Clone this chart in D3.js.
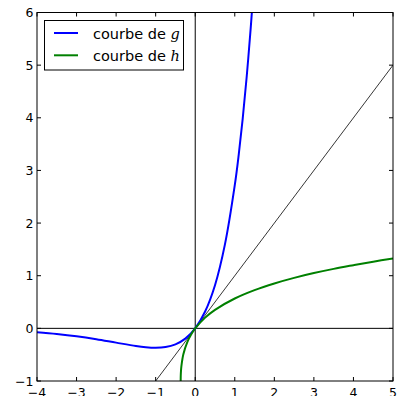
<!DOCTYPE html>
<html>
<head>
<meta charset="utf-8">
<script src="https://cdn.jsdelivr.net/npm/d3@7"></script>
<style>
  body { margin: 0; background: #fff; }
  text { font-family: "DejaVu Sans", sans-serif; }
</style>
</head>
<body>
<svg width="403" height="396"></svg>
<script>
// values
const gX = [-4, -3.5, -3, -2.5, -2, -1.5, -1.25, -1, -0.75, -0.5, -0.25, 0, 0.25, 0.5, 0.75, 1, 1.1, 1.2, 1.3, 1.4, 1.45];
const gY = [-0.073, -0.106, -0.149, -0.205, -0.271, -0.335, -0.358, -0.368, -0.354, -0.303, -0.195, 0, 0.32, 0.82, 1.59, 2.72, 3.3, 3.98, 4.77, 5.68, 6.19];
const hX = [-0.3679, -0.366, -0.36, -0.35, -0.3, -0.2, -0.1, 0, 0.25, 0.5, 1, 1.5, 2, 2.5, 3, 3.5, 4, 4.5, 5];
const hY = [-1, -0.9, -0.81, -0.72, -0.49, -0.26, -0.112, 0, 0.204, 0.352, 0.567, 0.726, 0.853, 0.959, 1.05, 1.13, 1.2, 1.267, 1.327];
const diagX = [-1, 5];
const xTicks = [-4, -3, -2, -1, 0, 1, 2, 3, 4, 5];
const yTicks = [-1, 0, 1, 2, 3, 4, 5, 6];
const legendLabels = ["g", "h"];

const svg = d3.select("svg");
const mLeft = 37, mRight = 393, mTop = 12.5, mBottom = 381;

const xs = d3.scaleLinear().domain([-4, 5]).range([mLeft, mRight]);
const ys = d3.scaleLinear().domain([-1, 6]).range([mBottom, mTop]);

svg.append("defs").append("clipPath").attr("id", "clip")
  .append("rect").attr("x", mLeft).attr("y", mTop)
  .attr("width", mRight - mLeft).attr("height", mBottom - mTop);

const plot = svg.append("g").attr("clip-path", "url(#clip)");

// axes through origin
plot.append("line").attr("x1", mLeft).attr("x2", mRight)
  .attr("y1", ys(0)).attr("y2", ys(0)).attr("stroke", "black").attr("stroke-width", 1);
plot.append("line").attr("x1", xs(0)).attr("x2", xs(0))
  .attr("y1", mTop).attr("y2", mBottom).attr("stroke", "black").attr("stroke-width", 1);

// y = x
plot.append("line").attr("x1", xs(diagX[0])).attr("y1", ys(diagX[0]))
  .attr("x2", xs(diagX[1])).attr("y2", ys(diagX[1]))
  .attr("stroke", "black").attr("stroke-width", 0.8);

const line = d3.line()
  .x(d => xs(d[0]))
  .y(d => ys(d[1]))
  .curve(d3.curveCatmullRom.alpha(0.5));

plot.append("path")
  .datum(gX.map((x, i) => [x, gY[i]]))
  .attr("fill", "none").attr("stroke", "#0000ff").attr("stroke-width", 2)
  .attr("d", line);

plot.append("path")
  .datum(hX.map((x, i) => [x, hY[i]]))
  .attr("fill", "none").attr("stroke", "#008000").attr("stroke-width", 2)
  .attr("d", line);

// frame
svg.append("rect").attr("x", mLeft).attr("y", mTop)
  .attr("width", mRight - mLeft).attr("height", mBottom - mTop)
  .attr("fill", "none").attr("stroke", "black").attr("stroke-width", 1);

// ticks (inside, on all four sides)
const tl = 4;
xTicks.forEach(t => {
  svg.append("line").attr("x1", xs(t)).attr("x2", xs(t)).attr("y1", mBottom).attr("y2", mBottom - tl).attr("stroke", "black");
  svg.append("line").attr("x1", xs(t)).attr("x2", xs(t)).attr("y1", mTop).attr("y2", mTop + tl).attr("stroke", "black");
  svg.append("text").attr("x", xs(t)).attr("y", mBottom + 16)
    .attr("text-anchor", "middle").attr("font-size", 12.5)
    .text(t < 0 ? "\u2212" + (-t) : t);
});
yTicks.forEach(t => {
  svg.append("line").attr("x1", mLeft).attr("x2", mLeft + tl).attr("y1", ys(t)).attr("y2", ys(t)).attr("stroke", "black");
  svg.append("line").attr("x1", mRight).attr("x2", mRight - tl).attr("y1", ys(t)).attr("y2", ys(t)).attr("stroke", "black");
  svg.append("text").attr("x", mLeft - 3.5).attr("y", ys(t) + 4.5)
    .attr("text-anchor", "end").attr("font-size", 12.5)
    .text(t < 0 ? "\u2212" + (-t) : t);
});

// legend
const lg = svg.append("g");
lg.append("rect").attr("x", 44.5).attr("y", 20.5).attr("width", 139).attr("height", 49.5)
  .attr("fill", "white").attr("stroke", "black").attr("stroke-width", 1);
const colors = ["#0000ff", "#008000"];
legendLabels.forEach((lab, i) => {
  const y = 33 + i * 22.3;
  lg.append("line").attr("x1", 54).attr("x2", 78).attr("y1", y).attr("y2", y)
    .attr("stroke", colors[i]).attr("stroke-width", 2);
  const t = lg.append("text").attr("x", 93).attr("y", y + 5.5).attr("font-size", 14.5);
  t.append("tspan").text("courbe de ");
  t.append("tspan").attr("font-family", "DejaVu Serif").attr("font-style", "italic").text(lab);
});
</script>
</body>
</html>
